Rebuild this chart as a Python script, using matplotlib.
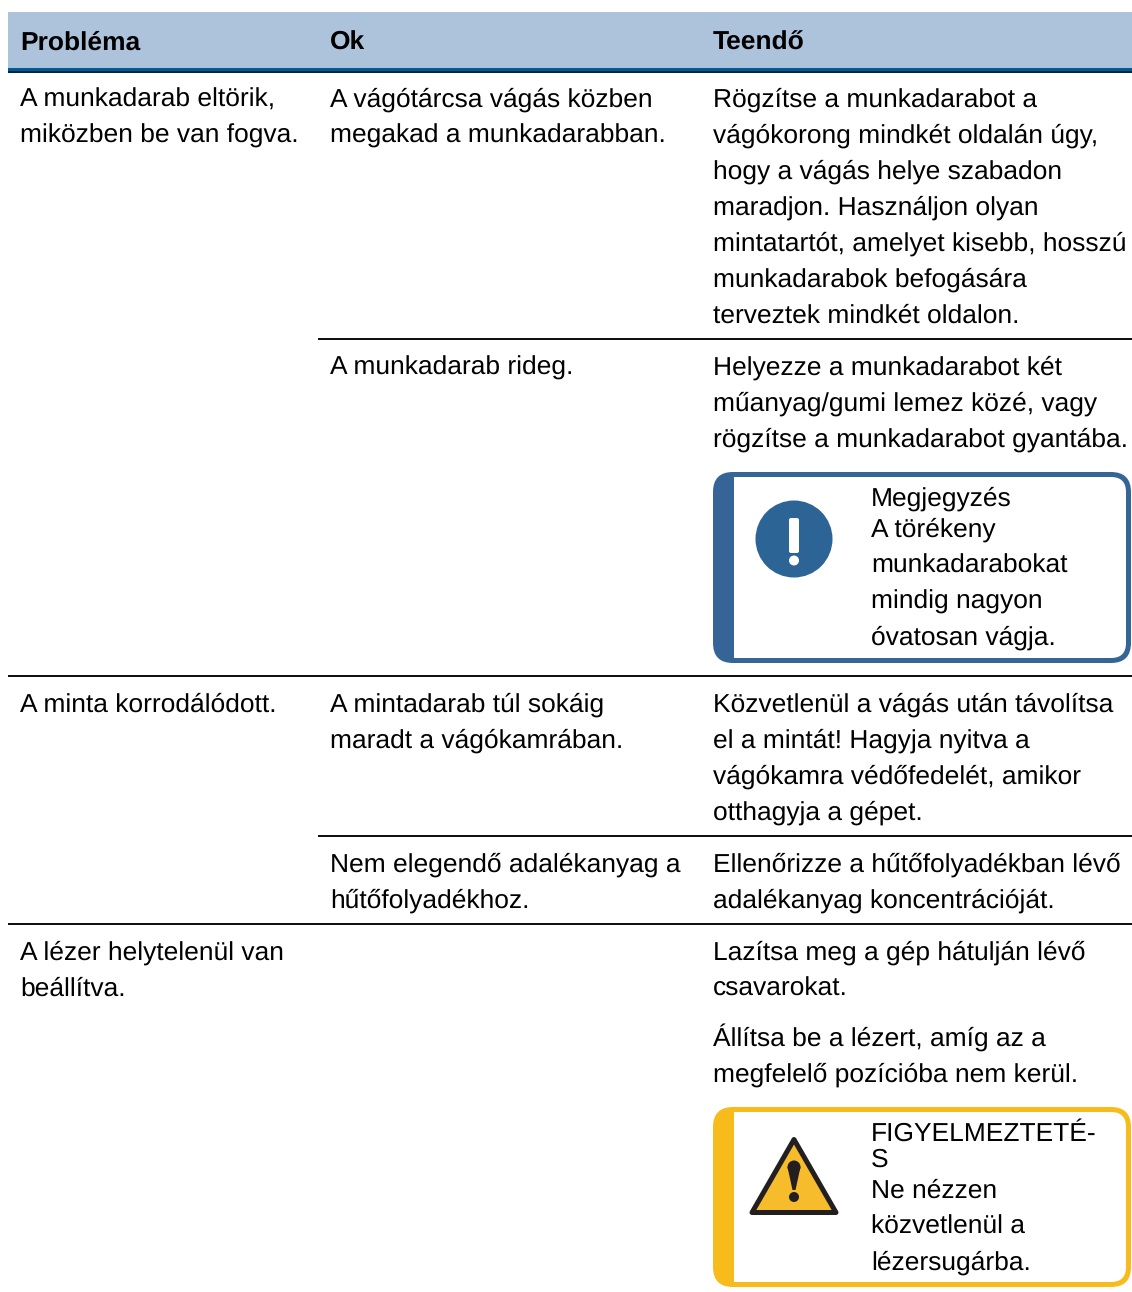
import matplotlib
matplotlib.use("Agg")
import matplotlib.pyplot as plt
from matplotlib.patches import Rectangle, FancyBboxPatch, Circle, Polygon

W, H = 1132, 1292
plt.rcParams['font.family'] = ['Liberation Sans', 'DejaVu Sans']
plt.rcParams['text.hinting'] = 'no_hinting'
plt.rcParams['text.hinting_factor'] = 8
PX = 72 / 100

headers = ["Probléma", "Ok", "Teendő"]
col_x = [20, 330, 713]
col_left = [8, 318, 701]

# (column, first baseline, lines)
cells = [
    (0, 107, ["A munkadarab eltörik,", "miközben be van fogva."]),
    (1, 107, ["A vágótárcsa vágás közben", "megakad a munkadarabban."]),
    (2, 107, ["Rögzítse a munkadarabot a", "vágókorong mindkét oldalán úgy,",
              "hogy a vágás helye szabadon", "maradjon. Használjon olyan",
              "mintatartót, amelyet kisebb, hosszú", "munkadarabok befogására",
              "terveztek mindkét oldalon."]),
    (1, 375, ["A munkadarab rideg."]),
    (2, 375, ["Helyezze a munkadarabot két", "műanyag/gumi lemez közé, vagy",
              "rögzítse a munkadarabot gyantába."]),
    (0, 712, ["A minta korrodálódott."]),
    (1, 712, ["A mintadarab túl sokáig", "maradt a vágókamrában."]),
    (2, 712, ["Közvetlenül a vágás után távolítsa", "el a mintát! Hagyja nyitva a",
              "vágókamra védőfedelét, amikor", "otthagyja a gépet."]),
    (1, 872, ["Nem elegendő adalékanyag a", "hűtőfolyadékhoz."]),
    (2, 872, ["Ellenőrizze a hűtőfolyadékban lévő", "adalékanyag koncentrációját."]),
    (0, 960, ["A lézer helytelenül van", "beállítva."]),
    (2, 960, ["Lazítsa meg a gép hátulján lévő", "csavarokat."]),
    (2, 1046, ["Állítsa be a lézert, amíg az a", "megfelelő pozícióba nem kerül."]),
]

# (y, left column the rule starts from)
rules = [(339, 1), (676, 0), (836, 1), (924, 0)]

note_title = ["Megjegyzés"]
note_body = ["A törékeny", "munkadarabokat", "mindig nagyon", "óvatosan vágja."]
warn_title = ["FIGYELMEZTETÉ-", "S"]
warn_body = ["Ne nézzen", "közvetlenül a", "lézersugárba."]

fig = plt.figure(figsize=(W / 100, H / 100), dpi=100, facecolor="white")
ax = fig.add_axes([0, 0, 1, 1])
ax.set_xlim(0, W)
ax.set_ylim(H, 0)
ax.axis("off")

FS = 26.4 * PX
FS_HEAD = 26.4 * PX
LINE = 36
INK = "#000000"


def txt(x, y, s, size=FS, **kw):
    ax.text(x, y + 0.05, s, fontsize=size, va="baseline", ha="left", color=INK, **kw)


# header
ax.add_patch(Rectangle((8, 12), W - 8, 56, fc="#ADC2DB", ec="none"))
ax.add_patch(Rectangle((8, 68), W - 8, 3, fc="#005A96", ec="none"))
ax.add_patch(Rectangle((8, 71), W - 8, 2, fc="#00263F", ec="none"))
for x, h in zip(col_x, headers):
    txt(x, 50, h, size=FS_HEAD, fontweight="bold")

for col, y0, lines in cells:
    for i, s in enumerate(lines):
        txt(col_x[col], y0 + i * LINE, s)

for y, c in rules:
    ax.add_patch(Rectangle((col_left[c] if c == 0 else 318, y - 1), W, 2, fc="#111111", ec="none"))


def callout(y0, y1, color):
    x0, x1 = 713, 1131
    r = 20
    ax.add_patch(FancyBboxPatch((x0 + r, y0 + r), x1 - x0 - 2 * r, y1 - y0 - 2 * r,
                                boxstyle=f"round,pad={r},rounding_size={r}",
                                fc=color, ec="none"))
    b = 5
    ri = 15
    ix0, ix1 = 734, x1 - b
    iy0, iy1 = y0 + b, y1 - b
    ax.add_patch(FancyBboxPatch((ix0 + ri, iy0 + ri), ix1 - ix0 - 2 * ri, iy1 - iy0 - 2 * ri,
                                boxstyle=f"round,pad={ri},rounding_size={ri}",
                                fc="white", ec="none"))
    ax.add_patch(Rectangle((ix0, iy0), 30, iy1 - iy0, fc="white", ec="none"))


# note callout
callout(472, 663, "#356597")
ax.add_patch(Circle((794, 539), 38.5, fc="#2C6496", ec="none"))
ax.add_patch(FancyBboxPatch((791, 520), 6, 31, boxstyle="round,pad=2,rounding_size=2",
                            fc="white", ec="none"))
ax.add_patch(Circle((794, 560.5), 5, fc="white", ec="none"))
txt(871, 506, note_title[0])
for i, s in enumerate(note_body):
    txt(871, 537 + i * LINE, s)

# warning callout
callout(1107, 1287, "#F7BC1B")
ax.add_patch(Polygon([(794, 1139.5), (752, 1212.5), (836, 1212.5)], closed=True, fc="#F6BC2C",
                     ec="#231F20", lw=5 * PX, joinstyle="round"))
ax.add_patch(Polygon([(787.5, 1167), (800.5, 1167), (795.5, 1190), (792.5, 1190)], closed=True,
                     fc="#231F20", ec="none"))
ax.add_patch(Circle((794, 1167), 6.5, fc="#231F20", ec="none"))
ax.add_patch(Circle((794, 1197), 5, fc="#231F20", ec="none"))
for s, y in zip(warn_title, [1141, 1167]):
    txt(871, y, s)
for i, s in enumerate(warn_body):
    txt(871, 1198 + i * LINE, s)

fig.savefig("out.png", dpi=100, facecolor="white")
